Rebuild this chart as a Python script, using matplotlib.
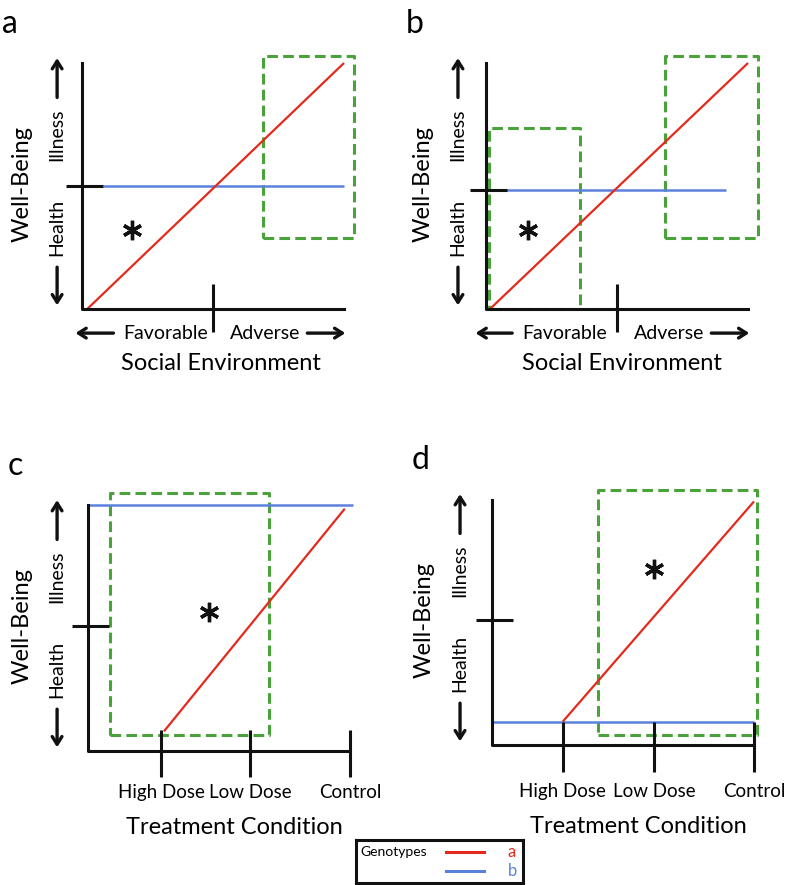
import matplotlib.pyplot as plt

plt.rcParams['font.family'] = ['Lato', 'DejaVu Sans']

RED = '#e42a1d'
BLUE = '#5a82dc'
GREEN = '#4aa23a'
BLACK = '#111111'

# panel origins in pixels (x, y from top) and scale (pixels per unit)
PX, PY = 26.2, 24.6
W, H = 785, 885

# ---- panel a : social environment, genotype a sensitive ----
a_red_x = [0.2, 10]
a_red_y = [0, 10]
a_blue_x = [0.8, 10]
a_blue_y = [5.0, 5.0]
a_ytick = 5.0
a_xticks = [5.0]
a_boxes = [(6.9, 2.9, 10.4, 10.3)]
a_star = (1.9, 3.2)

# ---- panel b ----
b_red_x = [0.15, 10]
b_red_y = [0, 10]
b_blue_x = [0, 9.15]
b_blue_y = [4.85, 4.85]
b_ytick = 4.85
b_xticks = [5.0]
b_boxes = [(0.1, 0.0, 3.6, 7.35), (6.85, 2.9, 10.4, 10.3)]
b_star = (1.6, 3.2)

# ---- panel c : treatment ----
dose_labels = ['High Dose', 'Low Dose', 'Control']
c_red_x = [2.9, 9.8]
c_red_y = [0.8, 9.85]
c_blue_x = [0, 10.1]
c_blue_y = [10, 10]
c_ytick = 5.1
c_xticks = [2.8, 6.2, 10.0]
c_boxes = [(0.85, 0.65, 6.9, 10.5)]
c_star = (4.6, 5.65)

# ---- panel d ----
d_red_x = [2.7, 10]
d_red_y = [0.95, 9.9]
d_blue_x = [0, 10]
d_blue_y = [0.95, 0.95]
d_ytick = 5.1
d_xticks = [2.7, 6.2, 10.0]
d_boxes = [(4.05, 0.4, 10.1, 10.35)]
d_star = (6.2, 7.15)

genotypes = ['a', 'b']
geno_colors = [RED, BLUE]

fig = plt.figure(figsize=(W / 100, H / 100), dpi=100)


def make_axes(ox, oy):
    ax = fig.add_axes([ox / W, 1 - oy / H, 10 * PX / W, 10 * PY / H])
    ax.set_xlim(0, 10)
    ax.set_ylim(0, 10)
    ax.axis('off')
    return ax


def arrow(ax, tail, head):
    ax.annotate('', xy=head, xytext=tail, annotation_clip=False,
                arrowprops=dict(arrowstyle='->,head_length=0.55,head_width=0.35',
                                lw=2.4, color=BLACK, shrinkA=0, shrinkB=0))


def draw_panel(ax, letter, red_x, red_y, blue_x, blue_y, ytick, xticks, boxes, star,
               ytop=10, tick_lo=-1.0, tick_hi=1.0, arrow_x=-1.0, wb_x=-2.35):
    kw = dict(clip_on=False, solid_capstyle='butt')
    # green highlight boxes
    for x0, y0, x1, y1 in boxes:
        ax.plot([x0, x1, x1, x0, x0], [y0, y0, y1, y1, y0], color=GREEN, lw=2.2,
                dashes=(3.5, 1.7), clip_on=False, zorder=1)
    ax.plot(blue_x, blue_y, color=BLUE, lw=1.8, zorder=2, **kw)
    ax.plot(red_x, red_y, color=RED, lw=1.6, zorder=2, **kw)
    # axes lines
    ax.plot([0, 0, 10], [ytop, 0, 0], color=BLACK, lw=2.2, clip_on=False, zorder=3)
    ax.plot([-0.6, 0.82], [ytick, ytick], color=BLACK, lw=2.2, zorder=3, **kw)
    for xt in xticks:
        ax.plot([xt, xt], [tick_lo, tick_hi], color=BLACK, lw=2.2, zorder=3, **kw)
    ax.plot([star[0]], [star[1]], marker=(6, 2, 0), ms=14, mew=2.4, color=BLACK,
            clip_on=False)
    # y side
    arrow(ax, (arrow_x, 8.6), (arrow_x, 10.2))
    arrow(ax, (arrow_x, 1.7), (arrow_x, 0.15))
    ax.text(arrow_x, 7.1, 'Illness', rotation=90, ha='center', va='center', fontsize=14)
    ax.text(arrow_x, 3.3, 'Health', rotation=90, ha='center', va='center', fontsize=14)
    ax.text(wb_x, 5.1, 'Well-Being', rotation=90, ha='center', va='center', fontsize=17)
    ax.text(-3.05, 11.6, letter, ha='left', va='center', fontsize=23)


def social_xaxis(ax, fav_x, adv_x, left_arrow, right_arrow, title_x):
    arrow(ax, (left_arrow[0], -0.98), (left_arrow[1], -0.98))
    arrow(ax, (right_arrow[0], -0.98), (right_arrow[1], -0.98))
    ax.text(fav_x, -0.98, 'Favorable', ha='center', va='center', fontsize=14)
    ax.text(adv_x, -0.98, 'Adverse', ha='center', va='center', fontsize=14)
    ax.text(title_x, -2.2, 'Social Environment', ha='center', va='center', fontsize=17)


def dose_xaxis(ax, xticks, label_y, title_y):
    for xt, lab in zip(xticks, dose_labels):
        ax.text(xt, label_y, lab, ha='center', va='center', fontsize=13.5)
    ax.text(5.6, title_y, 'Treatment Condition', ha='center', va='center', fontsize=17)


ax_a = make_axes(82, 309)
draw_panel(ax_a, 'a', a_red_x, a_red_y, a_blue_x, a_blue_y, a_ytick, a_xticks, a_boxes, a_star,
           tick_lo=-0.95, arrow_x=-0.95, wb_x=-2.3)
social_xaxis(ax_a, 3.2, 7.0, (1.2, -0.25), (8.6, 10.05), 5.3)

ax_b = make_axes(486, 309)
draw_panel(ax_b, 'b', b_red_x, b_red_y, b_blue_x, b_blue_y, b_ytick, b_xticks, b_boxes, b_star,
           tick_lo=-0.95, arrow_x=-1.07, wb_x=-2.4)
social_xaxis(ax_b, 3.0, 7.0, (1.0, -0.4), (8.6, 10.05), 5.2)

ax_c = make_axes(88, 751)
draw_panel(ax_c, 'c', c_red_x, c_red_y, c_blue_x, c_blue_y, c_ytick, c_xticks, c_boxes, c_star,
           tick_lo=-1.05, tick_hi=0.85, arrow_x=-1.18, wb_x=-2.5)
dose_xaxis(ax_c, c_xticks, -1.67, -3.1)

ax_d = make_axes(492, 745)
draw_panel(ax_d, 'd', d_red_x, d_red_y, d_blue_x, d_blue_y, d_ytick, d_xticks, d_boxes, d_star,
           ytop=9.96, tick_lo=-1.1, tick_hi=0.95, arrow_x=-1.22, wb_x=-2.6)
dose_xaxis(ax_d, d_xticks, -1.9, -3.33)

# legend box
lg = fig.add_axes([356 / W, 1 - 883 / H, 167 / W, 43 / H])
lg.set_xlim(0, 167)
lg.set_ylim(43, 0)
lg.set_xticks([])
lg.set_yticks([])
for s in lg.spines.values():
    s.set_linewidth(2.2)
    s.set_color(BLACK)
lg.text(4, 12, 'Genotypes', ha='left', va='center', fontsize=10)
for i, (g, c) in enumerate(zip(genotypes, geno_colors)):
    yy = 12 + i * 19
    lg.plot([90, 128], [yy, yy], color=c, lw=2.2)
    lg.text(156, yy, g, color=c, ha='center', va='center', fontsize=12)

fig.savefig('out.png', dpi=100)
